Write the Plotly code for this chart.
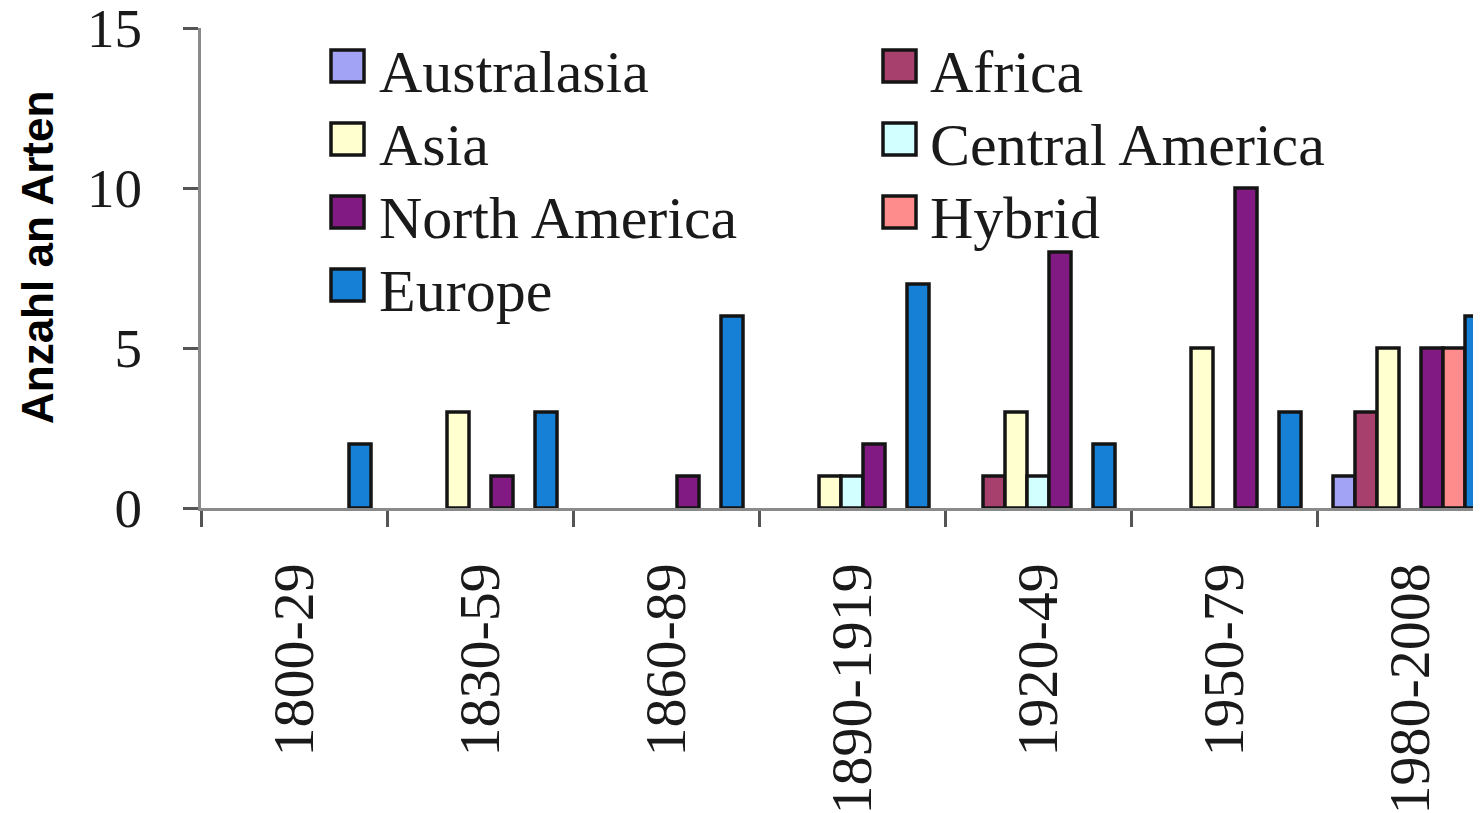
import plotly.graph_objects as go

categories = ["1800-29", "1830-59", "1860-89", "1890-1919", "1920-49", "1950-79", "1980-2008"]

series_names = ["Australasia", "Africa", "Asia", "Central America",
                "North America", "Hybrid", "Europe"]

australasia = [0, 0, 0, 0, 0, 0, 1]
africa = [0, 0, 0, 0, 1, 0, 3]
asia = [0, 3, 0, 1, 3, 5, 5]
central_america = [0, 0, 0, 1, 1, 0, 0]
north_america = [0, 1, 1, 2, 8, 10, 5]
hybrid = [0, 0, 0, 0, 0, 0, 5]
europe = [2, 3, 6, 7, 2, 3, 6]

series_values = [australasia, africa, asia, central_america, north_america, hybrid, europe]

colors = ["#a3a3f5", "#a8406e", "#ffffcf", "#d2ffff", "#821a83", "#ff8c8c", "#1680d6"]

y_ticks = [0, 5, 10, 15]

# page offset of the plot div (default body margin)
OFF = 8
# layout geometry (pixels, in figure coordinates)
W, H = 1481 - OFF, 813 - OFF
L, R, T = 201 - OFF, 0, 28 - OFF
plot_bottom = 508 - OFF
B = H - plot_bottom
plot_w = W - L - R
plot_h = plot_bottom - T
cat_px = 186.0

fig = go.Figure()
for name, vals, col in zip(series_names, series_values, colors):
    fig.add_trace(go.Bar(
        x=categories,
        y=[v if v else None for v in vals],
        name=name,
        marker=dict(color=col, line=dict(color="#141414", width=3.5)),
        showlegend=False,
    ))

def px_to_paper_x(px):
    return (px - OFF - L) / plot_w

def px_to_paper_y(py):
    return (plot_bottom - (py - OFF)) / plot_h

# legend drawn as swatches + text, two columns
legend_cols = [(331, 377), (883, 928)]
legend_rows = [66, 139, 212, 285]
shapes = []
annotations = []
for i, (name, col) in enumerate(zip(series_names, colors)):
    c = i % 2
    r = i // 2
    sx, tx = legend_cols[c]
    cy = legend_rows[r]
    shapes.append(dict(
        type="rect", xref="paper", yref="paper",
        x0=px_to_paper_x(sx), x1=px_to_paper_x(sx + 33),
        y0=px_to_paper_y(cy + 16), y1=px_to_paper_y(cy - 16),
        fillcolor=col, line=dict(color="#141414", width=3.5), layer="above",
    ))
    annotations.append(dict(
        text=name, xref="paper", yref="paper",
        x=px_to_paper_x(tx), y=px_to_paper_y(cy + 6),
        xanchor="left", yanchor="middle", showarrow=False,
        font=dict(family="Liberation Serif", size=60, color="#1a1a1a"),
    ))

annotations.append(dict(
    text="Anzahl an Arten", xref="paper", yref="paper",
    x=px_to_paper_x(38), y=px_to_paper_y(258),
    xanchor="center", yanchor="middle", showarrow=False, textangle=-90,
    font=dict(family="Liberation Sans", size=44, color="#000000", weight="bold"),
))

fig.update_layout(
    width=W, height=H,
    margin=dict(l=L, r=R, t=T, b=B, pad=0, autoexpand=False),
    paper_bgcolor="white", plot_bgcolor="white",
    barmode="group", bargap=32 / 186, bargroupgap=0,
    shapes=shapes, annotations=annotations,
    showlegend=False,
)

fig.update_xaxes(
    type="category", automargin=False,
    range=[-0.5, -0.5 + plot_w / cat_px],
    showline=True, linecolor="#8a8a8a", linewidth=3,
    ticks="outside", tickson="boundaries", ticklen=16, tickwidth=3, tickcolor="#555555",
    tickangle=-90, ticklabelstandoff=29, ticklabeloverflow="allow",
    tickfont=dict(family="Liberation Serif", size=58, color="#1a1a1a"),
    showgrid=False, zeroline=False,
)
fig.update_yaxes(
    automargin=False,
    range=[0, 15], tickvals=y_ticks, ticktext=[str(v) for v in y_ticks],
    showline=True, linecolor="#8a8a8a", linewidth=3,
    ticks="outside", ticklen=15, tickwidth=3, tickcolor="#555555",
    ticklabelstandoff=30, ticklabeloverflow="allow",
    tickfont=dict(family="Liberation Serif", size=55, color="#1a1a1a"),
    showgrid=False, zeroline=False,
)

fig.write_html("out.html")
